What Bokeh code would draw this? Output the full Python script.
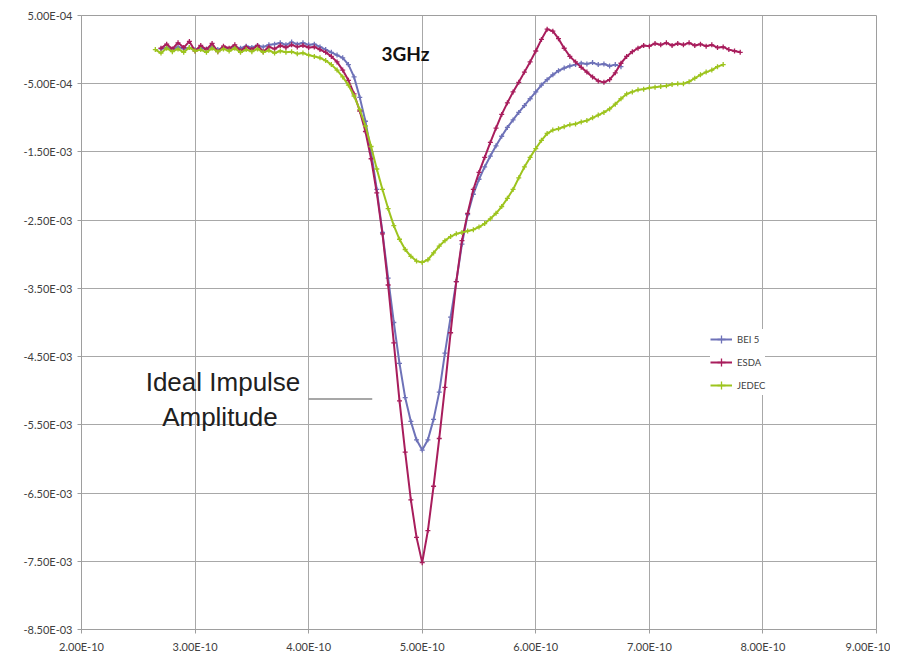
import numpy as np
from bokeh.plotting import figure
from bokeh.models import (FixedTicker, CustomJSTickFormatter, Legend, LegendItem,
                          Label, Range1d)
from bokeh.embed import file_html
from bokeh.resources import INLINE

# ---------------- data (time in ps, value in 1e-3 units) ----------------
BEI5_T = [270, 275, 280, 285, 290, 295, 300, 305, 310, 315, 320, 325, 330, 335, 340, 345,
          350, 355, 360, 365, 370, 375, 380, 385, 390, 395, 400, 405, 410, 415, 420, 425,
          430, 435, 440, 445, 450, 455, 460, 465, 470, 475, 480, 485, 490, 495, 500, 505,
          510, 515, 520, 525, 530, 535, 540, 545, 550, 555, 560, 565, 570, 575, 580, 585,
          590, 595, 600, 605, 610, 615, 620, 625, 630, 635, 640, 645, 650, 655, 660, 665,
          670, 675]
BEI5_V = [0.01, 0.03, 0.00, 0.04, 0.01, 0.03, 0.00, 0.02, 0.01, 0.04, 0.00, 0.03, 0.01, 0.04,
          0.02, 0.05, 0.03, 0.06, 0.04, 0.07, 0.08, 0.10, 0.07, 0.11, 0.08, 0.10, 0.07, 0.08,
          0.04, 0.00, -0.04, -0.08, -0.12, -0.22, -0.40, -0.70, -1.05, -1.50, -2.05, -2.68,
          -3.35, -4.00, -4.60, -5.10, -5.45, -5.72, -5.87, -5.72, -5.42, -5.02, -4.45, -3.92,
          -3.40, -2.85, -2.42, -2.12, -1.90, -1.72, -1.56, -1.41, -1.27, -1.14, -1.03, -0.92,
          -0.82, -0.72, -0.62, -0.52, -0.44, -0.37, -0.31, -0.27, -0.24, -0.22, -0.20, -0.21,
          -0.19, -0.22, -0.21, -0.24, -0.22, -0.25]

ESDA_T = [270, 275, 280, 285, 290, 295, 300, 305, 310, 315, 320, 325, 330, 335, 340, 345,
          350, 355, 360, 365, 370, 375, 380, 385, 390, 395, 400, 405, 410, 415, 420, 425,
          430, 435, 440, 445, 450, 455, 460, 465, 470, 475, 480, 485, 490, 495, 500, 505,
          510, 515, 520, 525, 530, 535, 540, 545, 550, 555, 560, 565, 570, 575, 580, 585,
          590, 595, 600, 605, 610, 615, 620, 625, 630, 635, 640, 645, 650, 655, 660, 665,
          670, 675, 680, 685, 690, 695, 700, 705, 710, 715, 720, 725, 730, 735, 740, 745,
          750, 755, 760, 765, 770, 775, 780]
ESDA_V = [0.02, 0.08, 0.01, 0.10, 0.03, 0.12, -0.02, 0.06, 0.00, 0.09, -0.03, 0.05, 0.02,
          0.07, -0.02, 0.04, 0.00, 0.06, -0.03, 0.04, 0.01, 0.06, 0.03, 0.07, 0.04, 0.06,
          0.03, 0.04, 0.00, -0.04, -0.10, -0.18, -0.30, -0.45, -0.65, -0.90, -1.20, -1.60,
          -2.10, -2.70, -3.45, -4.30, -5.15, -5.90, -6.60, -7.15, -7.52, -7.05, -6.40, -5.70,
          -4.95, -4.15, -3.40, -2.80, -2.40, -2.05, -1.80, -1.58, -1.36, -1.15, -0.95, -0.78,
          -0.62, -0.48, -0.33, -0.18, -0.02, 0.15, 0.30, 0.27, 0.16, 0.02, -0.10, -0.18,
          -0.26, -0.33, -0.40, -0.46, -0.48, -0.44, -0.34, -0.20, -0.10, -0.03, 0.02, 0.06,
          0.05, 0.09, 0.07, 0.10, 0.06, 0.09, 0.07, 0.10, 0.06, 0.08, 0.05, 0.07, 0.03, 0.04,
          0.00, -0.02, -0.04]

JEDEC_T = [265, 270, 275, 280, 285, 290, 295, 300, 305, 310, 315, 320, 325, 330, 335, 340,
           345, 350, 355, 360, 365, 370, 375, 380, 385, 390, 395, 400, 405, 410, 415, 420,
           425, 430, 435, 440, 445, 450, 455, 460, 465, 470, 475, 480, 485, 490, 495, 500,
           505, 510, 515, 520, 525, 530, 535, 540, 545, 550, 555, 560, 565, 570, 575, 580,
           585, 590, 595, 600, 605, 610, 615, 620, 625, 630, 635, 640, 645, 650, 655, 660,
           665, 670, 675, 680, 685, 690, 695, 700, 705, 710, 715, 720, 725, 730, 735, 740,
           745, 750, 755, 760, 765]
JEDEC_V = [0.00, -0.05, 0.02, -0.03, 0.01, -0.04, 0.03, -0.02, 0.00, -0.04, 0.02, -0.03,
           0.01, -0.02, 0.02, -0.04, 0.00, -0.03, 0.01, -0.04, -0.01, -0.05, -0.02, -0.04,
           -0.03, -0.06, -0.05, -0.08, -0.10, -0.12, -0.16, -0.22, -0.30, -0.40, -0.52,
           -0.68, -0.88, -1.12, -1.42, -1.75, -2.05, -2.33, -2.58, -2.78, -2.93, -3.03,
           -3.10, -3.12, -3.08, -2.98, -2.88, -2.80, -2.74, -2.70, -2.68, -2.66, -2.64,
           -2.60, -2.55, -2.48, -2.40, -2.30, -2.18, -2.05, -1.88, -1.72, -1.58, -1.45,
           -1.33, -1.23, -1.18, -1.16, -1.13, -1.10, -1.09, -1.06, -1.04, -1.00, -0.96,
           -0.92, -0.87, -0.80, -0.72, -0.65, -0.62, -0.59, -0.58, -0.56, -0.55, -0.54,
           -0.53, -0.51, -0.50, -0.50, -0.47, -0.42, -0.37, -0.33, -0.30, -0.25, -0.22]

SERIES_NAMES = ["BEI 5", "ESDA", "JEDEC"]
X_TICKS = [2e-10, 3e-10, 4e-10, 5e-10, 6e-10, 7e-10, 8e-10, 9e-10]
Y_TICKS = [5e-4, -5e-4, -1.5e-3, -2.5e-3, -3.5e-3, -4.5e-3, -5.5e-3, -6.5e-3, -7.5e-3, -8.5e-3]

COLORS = ["#6E72B8", "#A81D5C", "#9DC41E"]

# ---------------- figure ----------------
p = figure(width=890, height=655, output_backend="svg", toolbar_location=None,
           x_range=Range1d(2e-10, 9e-10), y_range=Range1d(-8.5e-3, 5e-4),
           min_border_left=81, min_border_right=14, min_border_top=15, min_border_bottom=22)
p.background_fill_color = "white"
p.border_fill_color = "white"
p.outline_line_color = "#9E9E9E"

fmt = CustomJSTickFormatter(code="""
const s = tick.toExponential(2);
const parts = s.split("e");
let e = parseInt(parts[1]);
const sign = e < 0 ? "-" : "+";
e = Math.abs(e);
return parts[0] + "E" + sign + (e < 10 ? "0" + e : "" + e);
""")

for ax, ticks in ((p.xaxis[0], X_TICKS), (p.yaxis[0], Y_TICKS)):
    ax.ticker = FixedTicker(ticks=ticks)
    ax.formatter = fmt
    ax.minor_tick_line_color = None
    ax.major_tick_in = 0
    ax.major_tick_out = 4
    ax.major_tick_line_color = "#9E9E9E"
    ax.axis_line_color = "#9E9E9E"
    ax.major_label_text_font = "Lato"
    ax.major_label_text_font_size = "11px"
    ax.major_label_text_color = "#404040"
p.xaxis.major_label_standoff = 6
p.yaxis.major_label_standoff = 5

p.xgrid.grid_line_color = "#A8A8A8"
p.ygrid.grid_line_color = "#A8A8A8"

items = []
for name, t, v, c in zip(SERIES_NAMES, (BEI5_T, ESDA_T, JEDEC_T),
                         (BEI5_V, ESDA_V, JEDEC_V), COLORS):
    x = np.array(t, dtype=float) * 1e-12
    y = np.array(v, dtype=float) * 1e-3
    r1 = p.line(x, y, line_color=c, line_width=2.0)
    r2 = p.scatter(x, y, marker="cross", size=5, line_color=c, line_width=1.3)
    items.append(LegendItem(label=name, renderers=[r1, r2]))

legend = Legend(items=items, location=(629, 234), label_text_font="Lato",
                label_text_font_size="9.5px", label_text_color="#404040",
                glyph_width=22, glyph_height=20, label_height=20, label_standoff=5,
                spacing=3, padding=5, margin=0, border_line_color=None,
                background_fill_color="white", background_fill_alpha=1.0)
p.add_layout(legend, "center")

# annotations
p.add_layout(Label(x=4.852e-10, y=-0.064e-3, text="3GHz", text_font="Lato",
                   text_font_style="bold", text_font_size="19px", text_color="#111111",
                   text_align="center", text_baseline="alphabetic"))
p.add_layout(Label(x=3.246e-10, y=-4.878e-3, text="Ideal Impulse", text_font="Liberation Sans",
                   text_font_size="26px", text_color="#202020",
                   text_align="center", text_baseline="alphabetic"))
p.add_layout(Label(x=3.219e-10, y=-5.387e-3, text="Amplitude", text_font="Liberation Sans",
                   text_font_size="26px", text_color="#202020",
                   text_align="center", text_baseline="alphabetic"))
p.segment(x0=[4.0e-10], y0=[-5.12e-3], x1=[4.56e-10], y1=[-5.12e-3],
          line_color="#8A8A8A", line_width=1.5)

open("out.html", "w").write(file_html(p, INLINE))
